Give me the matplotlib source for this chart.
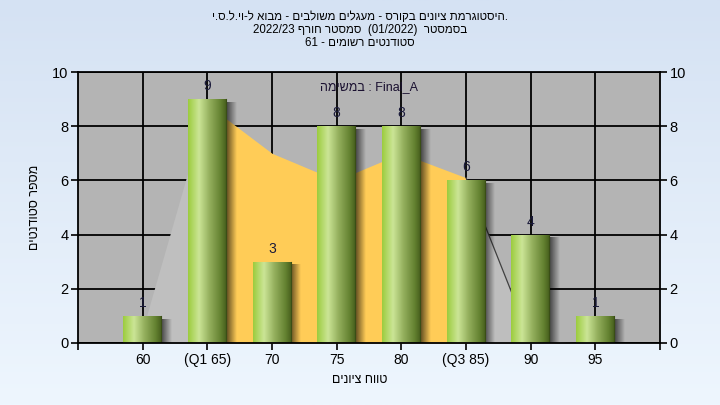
import re
import numpy as np
import matplotlib
matplotlib.use("Agg")
import matplotlib.pyplot as plt
from matplotlib.colors import LinearSegmentedColormap

# ---------------- data ----------------
categories = ["60", "(Q1 65)", "70", "75", "80", "(Q3 85)", "90", "95"]
counts = [1, 9, 3, 8, 8, 6, 4, 1]
curve = [0.5, 8.8, 7.0, 6.0, 7.0, 6.1, 0.1, 0.0]
q1_index = 1
q3_index = 5
title_lines = [
    ".היסטוגרמת ציונים בקורס - מעגלים משולבים - מבוא ל-וי.ל.ס.י",
    "בסמסטר  (01/2022)  סמסטר חורף 2022/23",
    "סטודנטים רשומים - 61",
]
exam_word = "במשימה"
exam_name = "Final_A"
ylabel_text = "מספר סטודנטים"
xlabel_text = "טווח ציונים"
yticks = [0, 2, 4, 6, 8, 10]


def visual(s):
    """Simple RTL -> visual order (reverse, keep digit runs LTR, mirror brackets)."""
    r = s[::-1]
    r = re.sub(r"[0-9][0-9/]*[0-9]|[0-9]", lambda m: m.group(0)[::-1], r)
    r = r.translate(str.maketrans("()", ")("))
    return r


FONT = ["Liberation Sans", "DejaVu Sans"]
plt.rcParams["font.family"] = FONT

fig = plt.figure(figsize=(7.2, 4.05), dpi=100)

# figure background gradient
bg = fig.add_axes([0, 0, 1, 1], zorder=-10)
grad = np.linspace(0, 1, 256).reshape(-1, 1)
bgcmap = LinearSegmentedColormap.from_list("bg", ["#d5e2f3", "#eef6fe"])
bg.imshow(grad, aspect="auto", cmap=bgcmap, extent=[0, 1, 0, 1], origin="upper")
bg.axis("off")

L, R, B, T = 78 / 720, 660 / 720, 1 - 343 / 405, 1 - 72 / 405
ax = fig.add_axes([L, B, R - L, T - B])
ax.set_facecolor("#b4b4b4")
x = np.arange(len(categories))
ax.set_xlim(-1, len(categories))
ax.set_ylim(0, 10)

# grid
for yv in yticks:
    ax.axhline(yv, color="black", lw=1.3, zorder=1)
for xv in x:
    ax.axvline(xv, color="black", lw=1.3, zorder=1)

# area curve: outside quartiles light gray, inside yellow
xa = np.array(x, dtype=float)
ca = np.array(curve)
ax.fill_between(xa[: q1_index + 1], 0, ca[: q1_index + 1], color="#bfbfbf", lw=0, zorder=2)
ax.fill_between(xa[q3_index:], 0, ca[q3_index:], color="#bebebe", lw=0, zorder=2)
ax.fill_between(xa[q1_index: q3_index + 1], 0, ca[q1_index: q3_index + 1], color="#ffcc57", lw=0, zorder=2.1)
ax.plot(xa[q3_index: q3_index + 2], ca[q3_index: q3_index + 2], color="#404040", lw=0.9, zorder=2.2)

# bars with cylinder gradient
barw = 0.6
cyl = LinearSegmentedColormap.from_list(
    "cyl",
    [(0.0, "#9ccc3e"), (0.28, "#cbe596"), (0.55, "#95b05e"), (0.85, "#62802f"), (1.0, "#445c1c")],
)
hgrad = np.linspace(0, 1, 128).reshape(1, -1)
bars = ax.bar(x, counts, width=barw, color="none", edgecolor="none", zorder=4)
for xi, v, b in zip(x, counts, bars):
    # shadow
    sh = np.zeros((1, 64, 4))
    sh[..., 3] = np.linspace(0.6, 0.0, 64)
    ax.imshow(sh, extent=[xi + barw / 2, xi + barw / 2 + 0.15, -0.1, v - 0.12],
              aspect="auto", zorder=3, interpolation="bilinear")
    im = ax.imshow(hgrad, extent=[xi - barw / 2, xi + barw / 2, 0, v], aspect="auto",
                   cmap=cyl, zorder=4, interpolation="bilinear")
    im.set_clip_path(b)
    ax.plot([xi + barw / 2 - 0.01] * 2, [0, v], color="#3a4e16", lw=0.8, zorder=4.1)
    ax.text(xi, v + 0.22, str(v), ha="center", va="bottom", fontsize=10,
            color="#1a1a3a", zorder=5)

ax.set_xlim(-1, len(categories))
ax.set_ylim(0, 10)

# ticks
ax.set_xticks(np.arange(-1, len(categories) + 1))
ax.set_xticklabels([""] + categories + [""], fontsize=10)
ax.set_yticks(yticks)
ax.set_yticklabels([str(v) for v in yticks], fontsize=10.5)
ax.tick_params(axis="both", direction="out", length=5, width=1.2, color="black", pad=2)
ax.tick_params(axis="y", right=True, labelright=True)
for s in ax.spines.values():
    s.set_color("black")
    s.set_linewidth(1.3)
    s.set_zorder(6)

# texts
ax.text(0.5, 0.965, visual(exam_word) + " : " + exam_name, transform=ax.transAxes,
        ha="center", va="top", fontsize=9, color="#1a1030", zorder=6)
ypos = [17, 30, 43]
for line, yp in zip(title_lines, ypos):
    fig.text(0.5, 1 - yp / 405, visual(line), ha="center", va="center", fontsize=8.3, color="black")
fig.text(35 / 720, 1 - 207 / 405, visual(ylabel_text), rotation=90, ha="center",
         va="center", fontsize=9, color="black")
fig.text(360 / 720, 1 - 380 / 405, visual(xlabel_text), ha="center", va="center",
         fontsize=9, color="black")

fig.savefig("out.png", dpi=100)
